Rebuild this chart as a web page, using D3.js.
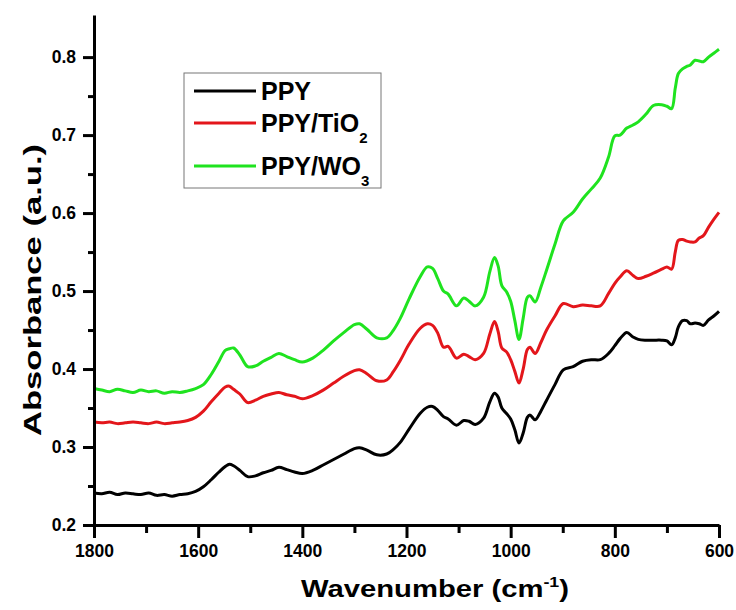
<!DOCTYPE html>
<html>
<head>
<meta charset="utf-8">
<script src="https://cdn.jsdelivr.net/npm/d3@7"></script>
<style>
  body { margin: 0; background: #fff; }
  svg { display: block; font-family: Arial, "Liberation Sans", sans-serif; }
  .axis path, .axis line { stroke: #000; stroke-width: 3; }
  .axis text { font-size: 17.5px; font-weight: bold; fill: #000; }
  .legend text { font-size: 25px; font-weight: bold; }
</style>
</head>
<body>
<script>
'use strict';

// wavenumber grid shared by the three spectra (cm-1)
var wavenumbers = [1800, 1785, 1770, 1755, 1740, 1725, 1710, 1695, 1680, 1665, 1650, 1635, 1620, 1605, 1590,
  1575, 1560, 1548, 1540, 1532, 1520, 1505, 1490, 1475, 1460, 1445, 1430, 1415, 1400, 1380, 1360, 1340, 1320,
  1300, 1290, 1276, 1257, 1238, 1225, 1212, 1195, 1174, 1160, 1150, 1140, 1129, 1120, 1104, 1090, 1080, 1068,
  1052, 1040, 1031, 1024, 1017, 1008, 1000, 992, 984, 976, 968, 963, 953, 942, 931, 915, 899, 880, 862, 845,
  828, 812, 800, 790, 777, 765, 755, 740, 726, 710, 700, 691, 684, 678, 670, 662, 655, 646, 638, 630, 620, 610, 600];

var ppy = [.241, .240, .242, .239, .241, .240, .239, .241, .238, .239, .237, .239, .240, .243, .249,
  .258, .268, .275, .278, .276, .270, .262, .263, .267, .270, .274, .271, .268, .266, .270, .277, .284, .291,
  .298, .299, .296, .290, .291, .297, .306, .323, .343, .351, .352, .347, .339, .336, .328, .334, .333, .329,
  .337, .358, .369, .364, .350, .343, .336, .322, .305, .318, .338, .341, .335, .346, .360, .380, .399, .403, .410, .412,
  .412, .420, .430, .439, .447, .441, .438, .437, .437, .437, .436, .431, .440, .454, .462, .462, .458, .459, .458, .456, .463, .468, .474];

var ppyTiO2 = [.332, .331, .332, .330, .331, .332, .331, .330, .332, .330, .331, .332, .334, .338, .346,
  .358, .369, .377, .378, .374, .368, .357, .360, .365, .368, .370, .367, .365, .362, .366, .373, .382, .391,
  .398, .399, .394, .385, .386, .397, .411, .432, .452, .458, .456, .446, .428, .429, .414, .419, .416, .412,
  .420, .445, .461, .448, .427, .422, .412, .397, .382, .400, .425, .428, .420, .434, .450, .468, .484, .480, .482, .481,
  .481, .497, .510, .518, .526, .520, .516, .519, .523, .528, .531, .528, .550, .565, .566, .564, .563, .563, .568, .571, .582, .592, .601];

var ppyWO3 = [.375, .373, .371, .374, .372, .370, .373, .371, .372, .369, .371, .370, .372, .375, .380,
  .393, .410, .424, .426, .427, .418, .403, .404, .410, .415, .420, .416, .412, .409, .414, .424, .436, .447,
  .457, .458, .451, .440, .440, .450, .465, .490, .518, .531, .529, .516, .500, .496, .481, .491, .487, .481,
  .492, .525, .543, .532, .507, .499, .487, .462, .438, .465, .492, .494, .486, .505, .527, .560, .590, .601, .618, .631,
  .645, .672, .699, .700, .709, .713, .717, .727, .738, .739, .737, .734, .760, .779, .785, .788, .790, .796, .795, .794, .800, .805, .810];

var seriesNames = ['PPY', 'PPY/TiO', 'PPY/WO'];
var seriesSubs = ['', '2', '3'];
var seriesColors = ['#000000', '#e3161b', '#1fe31f'];

var xTicks = [1800, 1600, 1400, 1200, 1000, 800, 600];
var xMinorTicks = [1700, 1500, 1300, 1100, 900, 700];
var yTicks = [0.2, 0.3, 0.4, 0.5, 0.6, 0.7, 0.8];
var yMinorTicks = [0.25, 0.35, 0.45, 0.55, 0.65, 0.75];

var chart = {};
chart.width = 736;
chart.height = 610;

chart.xScale = d3.scaleLinear().domain([1800, 600]).range([94, 719]);
chart.yScale = d3.scaleLinear().domain([0.2, 0.854]).range([525, 15]);

chart.run = function(){
  var svg = d3.select('body').append('svg')
    .attr('width', chart.width)
    .attr('height', chart.height);

  var x = chart.xScale, y = chart.yScale;

  // spectra
  var line = d3.line()
    .x(function(d){ return x(d[0]); })
    .y(function(d){ return y(d[1]); })
    .curve(d3.curveCatmullRom.alpha(0.5));

  [ppy, ppyTiO2, ppyWO3].forEach(function(vals, i){
    var pts = wavenumbers.map(function(w, k){ return [w, vals[k]]; });
    svg.append('path')
      .datum(pts)
      .attr('d', line)
      .attr('fill', 'none')
      .attr('stroke', seriesColors[i])
      .attr('stroke-width', 3)
      .attr('stroke-linejoin', 'round');
  });

  // minor ticks
  svg.append('g').attr('class', 'axis')
    .attr('transform', 'translate(0,' + y(0.2) + ')')
    .call(d3.axisBottom(x).tickValues(xMinorTicks).tickSize(8).tickFormat(''))
    .select('.domain').remove();
  svg.append('g').attr('class', 'axis')
    .attr('transform', 'translate(' + x(1800) + ',0)')
    .call(d3.axisLeft(y).tickValues(yMinorTicks).tickSize(6).tickFormat(''))
    .select('.domain').remove();

  // major axes
  svg.append('g').attr('class', 'axis')
    .attr('transform', 'translate(0,' + y(0.2) + ')')
    .call(d3.axisBottom(x).tickValues(xTicks).tickSize(13).tickSizeOuter(0).tickPadding(7).tickFormat(d3.format('d')));
  svg.append('g').attr('class', 'axis')
    .attr('transform', 'translate(' + x(1800) + ',0)')
    .call(d3.axisLeft(y).tickValues(yTicks).tickSize(11).tickSizeOuter(0).tickPadding(7).tickFormat(d3.format('.1f')));

  // axis titles
  var xt = svg.append('text')
    .attr('x', 435).attr('y', 597)
    .attr('text-anchor', 'middle')
    .attr('font-size', 23).attr('font-weight', 'bold')
    .attr('textLength', 268).attr('lengthAdjust', 'spacingAndGlyphs');
  xt.append('tspan').text('Wavenumber (cm');
  xt.append('tspan').attr('dy', -10).attr('font-size', 14).text('-1');
  xt.append('tspan').attr('dy', 10).text(')');

  svg.append('text')
    .attr('transform', 'translate(41,290) rotate(-90)')
    .attr('text-anchor', 'middle')
    .attr('font-size', 24).attr('font-weight', 'bold')
    .attr('textLength', 292).attr('lengthAdjust', 'spacingAndGlyphs')
    .text('Absorbance (a.u.)');

  // legend
  var lg = svg.append('g').attr('class', 'legend');
  lg.append('rect')
    .attr('x', 184).attr('y', 73).attr('width', 197).attr('height', 115)
    .attr('fill', '#fff').attr('stroke', '#777').attr('stroke-width', 1);
  var rowY = [91, 123, 166];
  seriesNames.forEach(function(name, i){
    lg.append('line')
      .attr('x1', 194).attr('x2', 256).attr('y1', rowY[i]).attr('y2', rowY[i])
      .attr('stroke', seriesColors[i]).attr('stroke-width', 3);
    var t = lg.append('text').attr('x', 261).attr('y', rowY[i] + 8.5);
    t.append('tspan').text(name);
    if (seriesSubs[i]) {
      t.append('tspan').attr('dy', 11).attr('font-size', 15).text(seriesSubs[i]);
    }
  });
};

chart.run();
</script>
</body>
</html>
